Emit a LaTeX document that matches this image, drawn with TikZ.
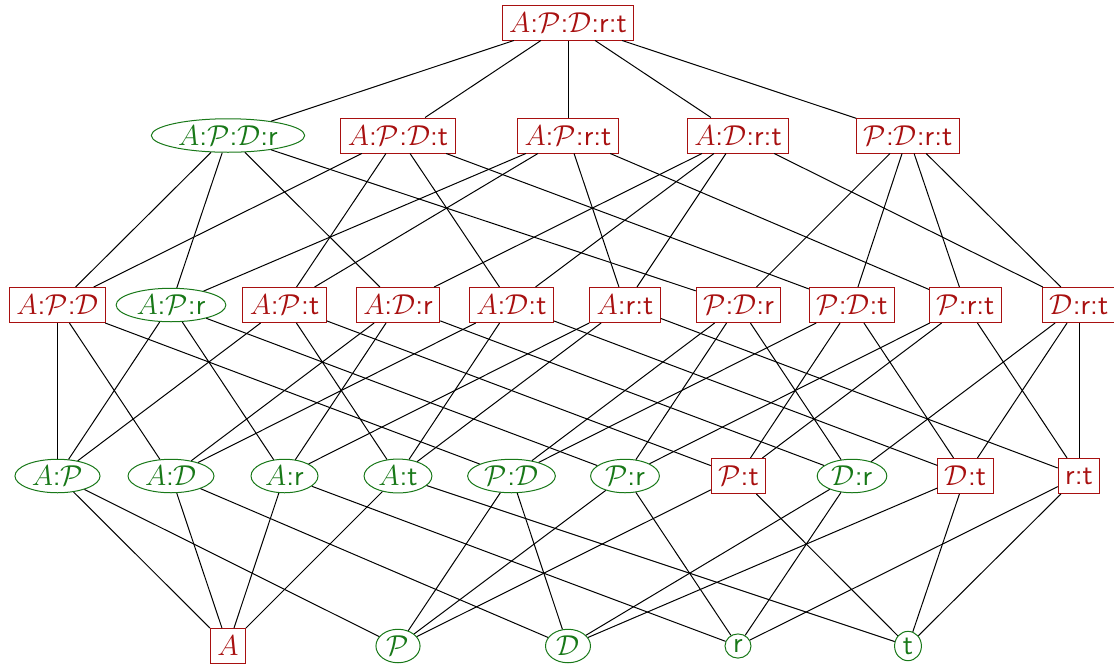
\documentclass[tikz,border=0pt]{standalone}
\usetikzlibrary{shapes.geometric}
\definecolor{myred}{RGB}{168,16,16}
\definecolor{mygreen}{RGB}{24,120,24}
\newcommand\mA{\ensuremath{A}}
\newcommand\mP{\ensuremath{\mathcal{P}}}
\newcommand\mD{\ensuremath{\mathcal{D}}}
\tikzset{
  rbox/.style={draw=myred, text=myred, rectangle, line width=0.5pt, inner xsep=3.5pt, inner ysep=0pt, minimum height=17.5pt},
  gell/.style={draw=mygreen, text=mygreen, ellipse, line width=0.5pt, inner xsep=2.2pt, inner ysep=1pt},
  link/.style={black, line width=0.5pt}
}
\begin{document}
\begin{tikzpicture}[x=0.5pt, y=-0.5pt, font=\fontsize{14.4}{17}\selectfont\sffamily]
\useasboundingbox (0,0) rectangle (1114,666);
% top
\node[rbox] (APDrt) at (568,22.5) {\mA:\mP:\mD:r:t};
% level 4
\node[gell] (APDr) at (228,135.5) {\mA:\mP:\mD:r};
\node[rbox] (APDt) at (398,135.5) {\mA:\mP:\mD:t};
\node[rbox] (APrt) at (568,135.5) {\mA:\mP:r:t};
\node[rbox] (ADrt) at (738,135.5) {\mA:\mD:r:t};
\node[rbox] (PDrt) at (908,135.5) {\mP:\mD:r:t};
% level 3
\node[rbox] (APD) at (57.5,305) {\mA:\mP:\mD};
\node[gell] (APr) at (171,305) {\mA:\mP:r};
\node[rbox] (APt) at (284.5,305) {\mA:\mP:t};
\node[rbox] (ADr) at (398,305) {\mA:\mD:r};
\node[rbox] (ADt) at (511.5,305) {\mA:\mD:t};
\node[rbox] (Art) at (625,305) {\mA:r:t};
\node[rbox] (PDr) at (738.5,305) {\mP:\mD:r};
\node[rbox] (PDt) at (852,305) {\mP:\mD:t};
\node[rbox] (Prt) at (965.5,305) {\mP:r:t};
\node[rbox] (Drt) at (1079,305) {\mD:r:t};
% level 2
\node[gell] (AP) at (57.5,476) {\mA:\mP};
\node[gell] (AD) at (171,476) {\mA:\mD};
\node[gell] (Ar) at (284.5,476) {\mA:r};
\node[gell] (At) at (398,476) {\mA:t};
\node[gell] (PD) at (511.5,476) {\mP:\mD};
\node[gell] (Pr) at (625,476) {\mP:r};
\node[rbox] (Pt) at (738.5,476) {\mP:t};
\node[gell] (Dr) at (852,476) {\mD:r};
\node[rbox] (Dt) at (965.5,476) {\mD:t};
\node[rbox] (rt) at (1079,476) {r:t};
% level 1
\node[rbox] (A) at (228,646) {\mA};
\node[gell] (P) at (398,646) {\mP};
\node[gell] (D) at (568,646) {\mD};
\node[gell] (r) at (738,646) {r};
\node[gell] (t) at (908,646) {t};
% edges
\foreach \a/\b in {APDrt/APDr, APDrt/APDt, APDrt/APrt, APDrt/ADrt, APDrt/PDrt,
  APDr/APD, APDr/APr, APDr/ADr, APDr/PDr,
  APDt/APD, APDt/APt, APDt/ADt, APDt/PDt,
  APrt/APr, APrt/APt, APrt/Art, APrt/Prt,
  ADrt/ADr, ADrt/ADt, ADrt/Art, ADrt/Drt,
  PDrt/PDr, PDrt/PDt, PDrt/Prt, PDrt/Drt,
  APD/AP, APD/AD, APD/PD,
  APr/AP, APr/Ar, APr/Pr,
  APt/AP, APt/At, APt/Pt,
  ADr/AD, ADr/Ar, ADr/Dr,
  ADt/AD, ADt/At, ADt/Dt,
  Art/Ar, Art/At, Art/rt,
  PDr/PD, PDr/Pr, PDr/Dr,
  PDt/PD, PDt/Pt, PDt/Dt,
  Prt/Pr, Prt/Pt, Prt/rt,
  Drt/Dr, Drt/Dt, Drt/rt,
  AP/A, AP/P, AD/A, AD/D, Ar/A, Ar/r, At/A, At/t,
  PD/P, PD/D, Pr/P, Pr/r, Pt/P, Pt/t,
  Dr/D, Dr/r, Dt/D, Dt/t, rt/r, rt/t}
  \draw[link] (\a) -- (\b);
\end{tikzpicture}
\end{document}
